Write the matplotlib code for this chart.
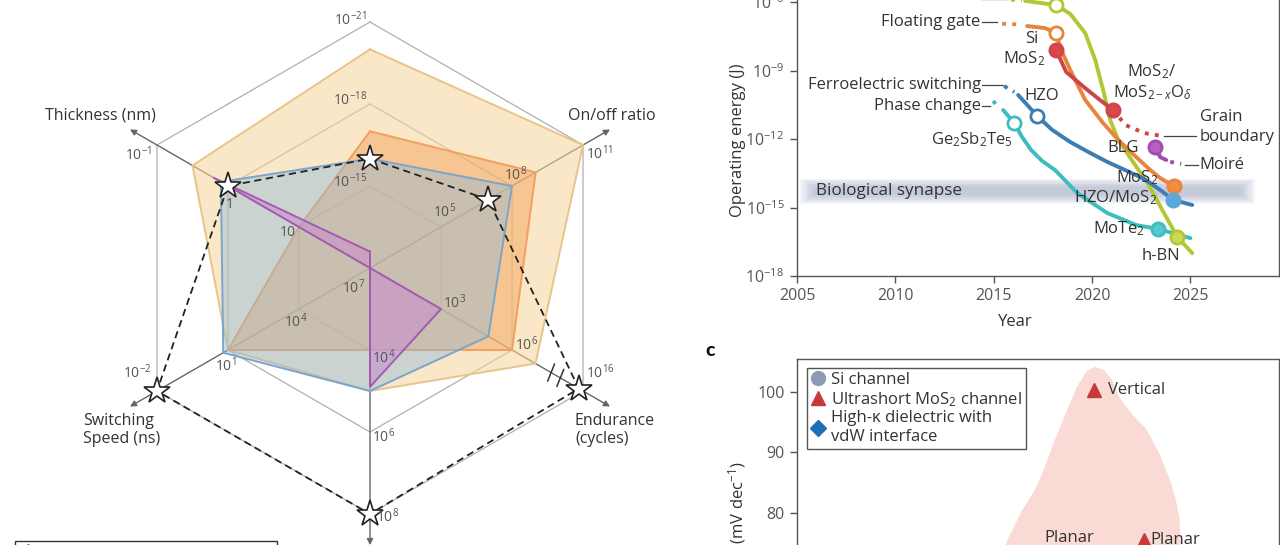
import numpy as np
import matplotlib
matplotlib.use("Agg")
import matplotlib.pyplot as plt
from matplotlib.lines import Line2D
from matplotlib.patches import Rectangle

plt.rcParams['font.family'] = ['Open Sans', 'DejaVu Sans']
plt.rcParams['mathtext.fontset'] = 'custom'
plt.rcParams['mathtext.rm'] = 'Open Sans'
plt.rcParams['mathtext.it'] = 'Open Sans:italic'
plt.rcParams['mathtext.bf'] = 'Open Sans:bold'

# ---------------- panel a : radar data (log10 values) ----------------
axis_angles = [90, 30, -30, -90, 210, 150]   # energy, on/off, endurance, retention, speed, thickness
# exponent at centre, ring 1, ring 2, ring 3
axis_levels = [
    [-12, -15, -18, -21],
    [2, 5, 8, 11],
    [0, 3, 6, 16],
    [2, 4, 6, 8],
    [7, 4, 1, -2],
    [2, 1, 0, -1],
]
beige = [-20, 11, 9.3, 5, 1, -0.5]
orange = [-17, 9, 6, 4, 1, 1]
blue = [-16, 8, 5, 5, 0.8, -0.1]
purple = [-12.6, 2, 3, 4.9, 7, -0.2]
target = [-16, 7, 15.4, 8, -2, 0]

# ring tick labels: axis, ring, text, dx, dy (px), ha
ring_labels = [
    (0, 1, '10$^{-15}$', -3, -4, 'right'), (0, 2, '10$^{-18}$', -3, -4, 'right'),
    (0, 3, '10$^{-21}$', -3, -2, 'right'),
    (1, 1, '10$^{5}$', 4, -15, 'center'), (1, 2, '10$^{8}$', 4, -11, 'center'),
    (1, 3, '10$^{11}$', 3, 9, 'left'),
    (2, 1, '10$^{3}$', 2, -6, 'left'), (2, 2, '10$^{6}$', 3, -5, 'left'),
    (2, 3, '10$^{16}$', 3, -18, 'left'),
    (3, 1, '10$^{4}$', 2, 8, 'left'), (3, 2, '10$^{6}$', 2, 5, 'left'),
    (3, 3, '10$^{8}$', 6, 3, 'left'),
    (4, 0, '10$^{7}$', -5, 20, 'right'), (4, 1, '10$^{4}$', -3, 13, 'center'),
    (4, 2, '10$^{1}$', -2, 16, 'center'), (4, 3, '10$^{-2}$', -5, -18, 'right'),
    (5, 1, '10', -11, 5, 'center'), (5, 2, '1', 2, 19, 'center'),
    (5, 3, '10$^{-1}$', -5, 10, 'right'),
]

# ---------------- panel b : operating energy vs year (log10 J) ----------------
cf_year = [2016.6, 2018.17, 2018.89, 2019.65, 2020.16, 2020.56, 2020.92, 2021.33, 2021.84, 2022.85, 2023.57, 2024.33, 2025.09]
cf_log = [-5.95, -6.13, -6.52, -7.36, -8.54, -9.85, -11.17, -12.04, -12.7, -13.97, -15.11, -16.29, -17.0]
fg_year = [2016.7, 2017.61, 2018.17, 2018.43, 2018.89, 2019.65, 2020.56, 2021.33, 2022.24, 2022.96, 2023.46, 2024.15]
fg_log = [-7.05, -7.14, -7.36, -8.1, -8.98, -10.29, -11.3, -12.04, -12.79, -13.36, -13.71, -14.06]
mo_year = [2018.17, 2018.68, 2019.65, 2020.4, 2021.07]
mo_log = [-8.1, -9.06, -9.77, -10.29, -10.73]
gb_year = [2021.07, 2021.7, 2022.65, 2023.6]
gb_log = [-10.73, -11.39, -11.74, -11.87]
fe_year = [2016.24, 2017.21, 2017.97, 2018.89, 2019.9, 2020.77, 2021.68, 2022.65, 2023.46, 2024.13, 2025.09]
fe_log = [-10.07, -10.99, -11.6, -12.13, -12.61, -13.0, -13.36, -13.75, -14.23, -14.67, -14.89]
pc_year = [2015.48, 2016.04, 2016.44, 2016.9, 2017.46, 2018.12, 2019.24, 2020.77, 2022.24, 2023.36, 2025.0]
pc_log = [-10.73, -11.3, -11.91, -12.48, -12.96, -13.36, -14.36, -15.24, -15.77, -15.94, -16.34]
moire_year = [2023.21, 2023.46, 2023.77]
moire_log = [-12.35, -12.79, -12.92]

# ---------------- panel c ----------------
blob_x = [4.21, 4.34, 4.65, 4.94, 5.12, 5.35, 5.58, 5.81, 6.0, 6.18, 6.37, 6.54, 6.68,
          6.97, 7.26, 7.53, 7.74, 7.86, 7.93, 7.97, 8.01]
blob_y = [65.6, 75.0, 80.1, 83.8, 87.1, 92.0, 96.5, 100.8, 103.3, 104.1, 103.6, 101.9, 99.1,
          96.1, 93.7, 89.5, 85.4, 82.1, 79.3, 74.6, 65.6]
mos2_x = [6.17, 7.19]
mos2_y = [100.3, 75.5]
mos2_names = ['Vertical', 'Planar']

W, H = 1280, 545
fig = plt.figure(figsize=(W / 100, H / 100), dpi=100)

# ================= radar =================
CX, CY, RING = 370, 268, 82
ax0 = fig.add_axes([0, 0, 1, 1])
ax0.set_xlim(-CX / RING, (W - CX) / RING)
ax0.set_ylim(-(H - CY) / RING, CY / RING)
ax0.axis('off')


def P(px, py):
    return (px - CX) / RING, (CY - py) / RING


th = np.deg2rad(axis_angles)


def radius(vals):
    out = []
    for v, lv in zip(vals, axis_levels):
        lv = np.asarray(lv, float)
        s = 1 if lv[-1] > lv[0] else -1
        out.append(np.interp(s * v, s * lv, [0, 1, 2, 3]))
    return np.array(out)


def closed(a):
    return np.append(a, a[0])


for lev in (1, 2, 3):
    ax0.plot(closed(lev * np.cos(th)), closed(lev * np.sin(th)), color='#b0b0b0', lw=0.9, zorder=1)
for t in th:
    ax0.annotate('', xy=(3.38 * np.cos(t), 3.38 * np.sin(t)), xytext=(0, 0),
                 arrowprops=dict(arrowstyle='-|>', color='#666666', lw=1.0, mutation_scale=9,
                                 shrinkA=0, shrinkB=0), zorder=1)

# break marks on the endurance axis
tb = np.deg2rad(-30)
for rb in (2.55, 2.68):
    bx, by = rb * np.cos(tb), rb * np.sin(tb)
    d = np.deg2rad(68)
    ax0.plot([bx - 0.11 * np.cos(d), bx + 0.11 * np.cos(d)], [by - 0.11 * np.sin(d), by + 0.11 * np.sin(d)],
             color='#333333', lw=1.1, zorder=6)

for vals, fc, ec, a, z in [(beige, '#f6d49a', '#e8c48a', 0.55, 2),
                           (orange, '#f5a45c', '#f0a060', 0.5, 3),
                           (blue, '#8ab9dd', '#7aa5cc', 0.42, 4),
                           (purple, '#c98fcf', '#a45aae', 0.6, 5)]:
    r = radius(vals)
    x, y = r * np.cos(th), r * np.sin(th)
    ax0.fill(x, y, fc=fc, alpha=a, lw=0, zorder=z)
    ax0.plot(closed(x), closed(y), color=ec, lw=1.4, zorder=z)

r = radius(target)
x, y = r * np.cos(th), r * np.sin(th)
ax0.plot(closed(x), closed(y), color='#222222', lw=1.3, ls=(0, (4, 2.5)), zorder=7)
ax0.plot(x, y, ls='none', marker='*', ms=20, mfc='white', mec='#222222', mew=1.2, zorder=8)

for i, lev, txt, dx, dy, ha in ring_labels:
    lx, ly = lev * np.cos(th[i]) + dx / RING, lev * np.sin(th[i]) - dy / RING
    ax0.text(lx, ly, txt, fontsize=10, color='#555555', ha=ha, va='center', zorder=9)

name_kw = dict(fontsize=11.5, color='#333333', va='center', zorder=9, linespacing=1.15)
ax0.text(*P(100, 116), 'Thickness (nm)', ha='center', **name_kw)
ax0.text(*P(612, 116), 'On/off ratio', ha='center', **name_kw)
ax0.text(*P(575, 430), 'Endurance\n(cycles)', ha='left', **name_kw)
ax0.text(*P(83, 430), 'Switching\nSpeed (ns)', ha='left', **name_kw)

# legend box of panel a (cut at the bottom edge)
fig.add_artist(Rectangle((15 / W, (H - 575) / H), 262 / W, 34 / H, transform=fig.transFigure,
                         fill=False, ec='#333333', lw=1))
ax0.plot(*P(28, 552), marker='*', ms=12, mfc='white', mec='#222222', mew=1, clip_on=False)

# ================= panel b =================
axb = fig.add_axes([797 / W, (H - 276) / H, 482 / W, 319.6 / H])
axb.set_yscale('log')
axb.set_ylim(1e-18, 1e-4)
axb.set_xlim(2005, 2029.5)
for s in axb.spines.values():
    s.set_color('#555555')
    s.set_linewidth(1)
axb.set_xticks([2005, 2010, 2015, 2020, 2025])
axb.set_yticks([1e-18, 1e-15, 1e-12, 1e-9, 1e-6])
axb.set_yticklabels(['10$^{-18}$', '10$^{-15}$', '10$^{-12}$', '10$^{-9}$', '10$^{-6}$'])
axb.minorticks_off()
axb.tick_params(colors='#555555', labelsize=11.5, length=5, width=1, pad=4)
axb.set_xlabel('Year', fontsize=12, color='#333333')
axb.xaxis.set_label_coords((1015 - 797) / 482, -(314 - 276) / 319.6)
axb.set_ylabel('Operating energy (J)', fontsize=12, color='#333333')
axb.yaxis.set_label_coords((746 - 797) / 482, (276 - 140) / 319.6)

# biological synapse band with soft edges
for k in range(7):
    h = 0.55 - 0.06 * k
    d = 0.12 * k
    axb.fill_between([2005.15 + d, 2028.3 - d], 10 ** (-14.28 - h), 10 ** (-14.28 + h),
                     color='#8c98b8', alpha=0.09, lw=0, zorder=1)
axb.text(2005.97, 10 ** -14.28, 'Biological synapse', fontsize=12.3, color='#333333', va='center', zorder=2)

LW = 2.8
GREEN, ORANGE, RED, BLUE, TEAL, PURPLE = '#b3c735', '#e8843c', '#cf4448', '#3c7db4', '#3dbdbd', '#a04dad'


def curve(xs, ls, c, dotted=False):
    axb.plot(xs, 10 ** np.array(ls), color=c, lw=LW, solid_capstyle='round',
             ls=(0, (1, 1.6)) if dotted else '-', zorder=3)


curve(cf_year, cf_log, GREEN)
curve([2015.88, 2016.44], [-5.9, -5.93], GREEN, dotted=True)
curve(fg_year, fg_log, ORANGE)
curve([2015.43, 2016.34], [-6.95, -6.98], ORANGE, dotted=True)
curve(mo_year, mo_log, RED)
curve(gb_year, gb_log, RED, dotted=True)
curve(fe_year, fe_log, BLUE)
curve([2015.53, 2016.04], [-9.68, -9.94], BLUE, dotted=True)
curve(pc_year, pc_log, TEAL)
curve([2014.97, 2015.22], [-10.33, -10.6], TEAL, dotted=True)
curve(moire_year, moire_log, PURPLE)
curve([2023.97, 2024.53], [-13.0, -13.09], PURPLE, dotted=True)


def dot(xv, lv, c, face):
    axb.plot([xv], [10 ** lv], marker='o', ms=9.5, mfc=face, mec=c, mew=2, zorder=4)


dot(cf_year[1], cf_log[1], GREEN, 'white')
dot(cf_year[-2], cf_log[-2], GREEN, '#cdd85c')
dot(fg_year[2], fg_log[2], ORANGE, 'white')
dot(fg_year[-1], fg_log[-1], ORANGE, '#f28c3e')
dot(mo_year[0], mo_log[0], RED, '#d9474b')
dot(mo_year[-1], mo_log[-1], RED, '#d9474b')
dot(fe_year[1], fe_log[1], BLUE, 'white')
dot(fe_year[-2], fe_log[-2], '#5aa8dc', '#5aa8dc')
dot(pc_year[1], pc_log[1], TEAL, 'white')
dot(pc_year[-2], pc_log[-2], '#3dbdbd', '#55c9cb')
dot(moire_year[0], moire_log[0], PURPLE, '#b55fbf')

# leader lines
for x0, x1, lv in [(2014.41, 2015.17, -6.87), (2014.41, 2015.48, -9.63), (2014.41, 2014.82, -10.55),
                   (2023.67, 2025.3, -11.87), (2024.72, 2025.38, -13.14), (2014.41, 2015.7, -5.87)]:
    axb.plot([x0, x1], [10 ** lv] * 2, color='#444444', lw=0.9, zorder=2)

lab = dict(fontsize=12, color='#333333', va='center', zorder=5)
axb.text(2014.36, 10 ** -5.72, 'Conductive filament', ha='right', **lab)
axb.text(2014.31, 10 ** -6.87, 'Floating gate', ha='right', **lab)
axb.text(2016.95, 10 ** -7.6, 'Si', ha='center', **lab)
axb.text(2016.55, 10 ** -8.5, 'MoS$_2$', ha='center', **lab)
axb.text(2014.36, 10 ** -9.63, 'Ferroelectric switching', ha='right', **lab)
axb.text(2014.36, 10 ** -10.55, 'Phase change', ha='right', **lab)
axb.text(2017.46, 10 ** -10.12, 'HZO', ha='center', **lab)
axb.text(2013.9, 10 ** -12.04, 'Ge$_2$Sb$_2$Te$_5$', ha='center', **lab)
axb.text(2021.78, 10 ** -9.06, 'MoS$_2$/', ha='left', **lab)
axb.text(2021.07, 10 ** -9.98, 'MoS$_{2-x}$O$_{\\delta}$', ha='left', **lab)
axb.text(2025.47, 10 ** -11.04, 'Grain', ha='left', **lab)
axb.text(2025.47, 10 ** -11.91, 'boundary', ha='left', **lab)
axb.text(2021.6, 10 ** -12.39, 'BLG', ha='center', **lab)
axb.text(2025.47, 10 ** -13.14, 'Moiré', ha='left', **lab)
axb.text(2022.3, 10 ** -13.71, 'MoS$_2$', ha='center', **lab)
axb.text(2021.17, 10 ** -14.58, 'HZO/MoS$_2$', ha='center', **lab)
axb.text(2021.38, 10 ** -15.94, 'MoTe$_2$', ha='center', **lab)
axb.text(2023.5, 10 ** -17.12, 'h-BN', ha='center', **lab)

# ================= panel c =================
axc = fig.add_axes([797 / W, (H - 694) / H, 482 / W, 335 / H])
axc.set_xlim(0, 10)
axc.set_ylim(50, 105.4)
for s in axc.spines.values():
    s.set_color('#555555')
    s.set_linewidth(1)
axc.set_xticks([])
axc.set_yticks([60, 70, 80, 90, 100])
axc.tick_params(colors='#555555', labelsize=11.5, length=5, width=1, pad=4)
axc.fill(blob_x, blob_y, color='#fadad4', lw=0, zorder=1)
axc.plot(mos2_x, mos2_y, ls='none', marker='^', ms=10, color='#c8393b', zorder=3)
axc.text(mos2_x[0] + 0.28, mos2_y[0], mos2_names[0], fontsize=12, color='#333333', va='center')
axc.text(mos2_x[1] + 0.15, mos2_y[1], mos2_names[1], fontsize=12, color='#333333', va='center')
axc.text(5.64, 75.8, 'Planar', fontsize=12, color='#333333', ha='center', va='center')

handles = [Line2D([], [], ls='none', marker='o', ms=10, color='#8e9bb5'),
           Line2D([], [], ls='none', marker='^', ms=10, color='#c8393b'),
           Line2D([], [], ls='none', marker='D', ms=8.5, color='#1f6fb5')]
leg = axc.legend(handles, ['Si channel', 'Ultrashort MoS$_2$ channel', 'High-κ dielectric with\nvdW interface'],
                 loc='upper left', bbox_to_anchor=(10 / 482, (694 - 368) / 335), borderaxespad=0,
                 fontsize=12, fancybox=False, edgecolor='#555555', framealpha=1,
                 handlelength=0.8, handletextpad=0.4, labelspacing=0.1, borderpad=0.25)
leg.get_frame().set_linewidth(1)
for t in leg.get_texts():
    t.set_color('#333333')

fig.text(737 / W, 1 - 461 / H, 'SS (mV dec$^{-1}$)', rotation=90, ha='center', va='top',
         fontsize=12, color='#333333')
fig.text(710 / W, 1 - 351 / H, 'c', fontsize=14, fontweight='black', family=['Lato', 'DejaVu Sans'],
         ha='center', va='center', color='#111111')

fig.savefig('out.png', dpi=100)
